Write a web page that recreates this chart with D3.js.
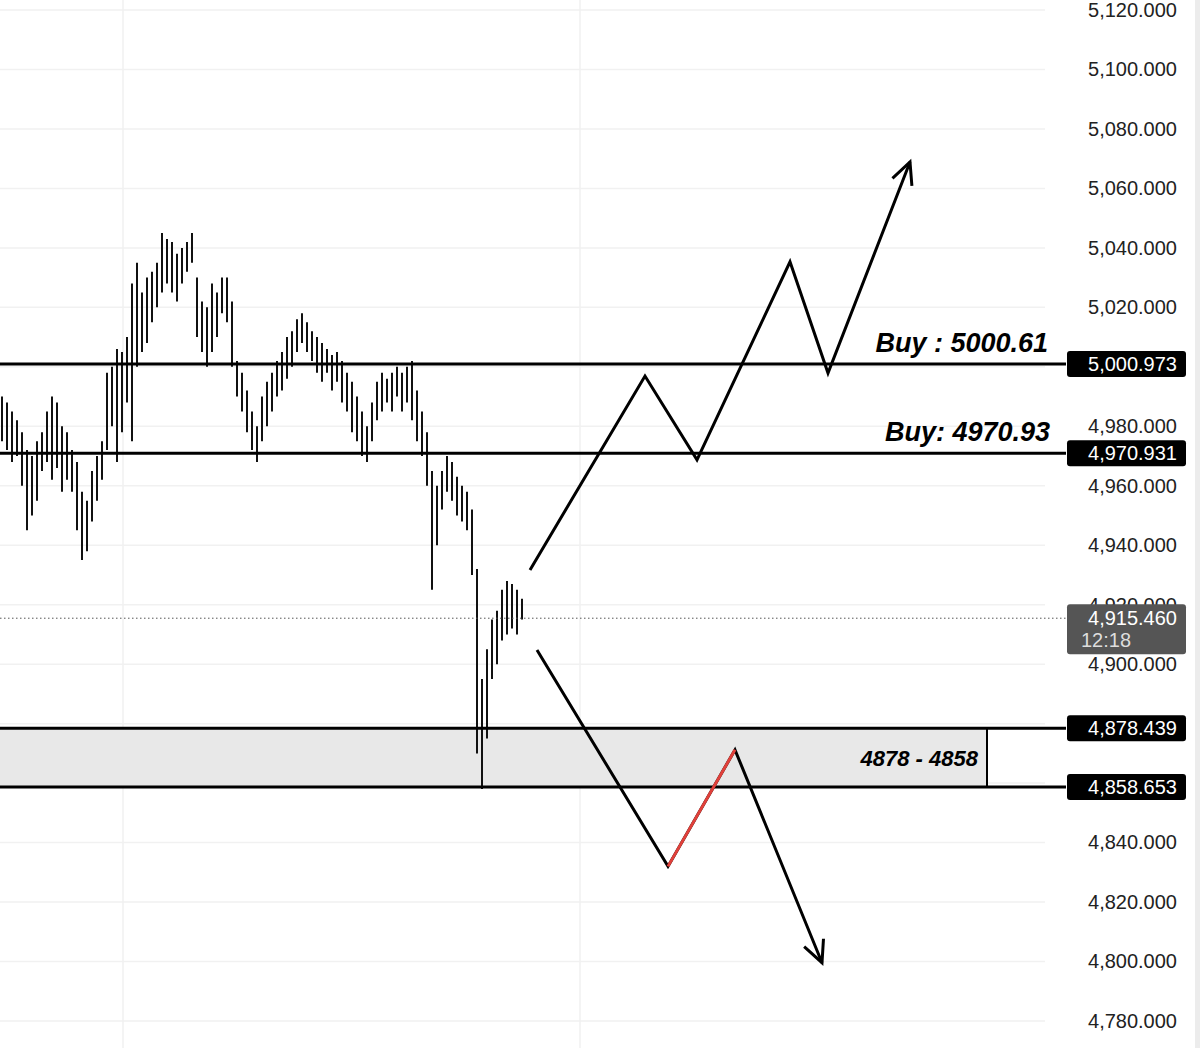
<!DOCTYPE html>
<html>
<head>
<meta charset="utf-8">
<script src="https://cdn.jsdelivr.net/npm/d3@7"></script>
<style>
body { margin: 0; background: #fff; }
svg { display: block; font-family: "Helvetica Neue", "Liberation Sans", Arial, sans-serif; }
</style>
</head>
<body>
<div class="canva"></div>
<script>
// bar lows / highs, one per bar
var lows = [4975,4972,4968,4970,4960,4945,4950,4955,4965,4968,4962,4966,4958,4962,4958,4945,4935,4938,4948,4955,
  4962,4972,4980,4968,4978,4988,4975,5000,5005,5008,5015,5020,5025,5028,5025,5022,5028,5032,5035,5010,
  5005,5000,5005,5010,5018,5015,5000,4990,4985,4978,4972,4968,4975,4980,4985,4990,4992,4996,5000,5005,
  5008,5005,5002,4998,4995,4998,4992,4995,4988,4985,4978,4975,4970,4968,4975,4982,4985,4988,4985,4990,
  4985,4988,4982,4975,4970,4960,4925,4940,4952,4958,4955,4950,4948,4945,4930,4870,4858,4875,4895,4900,
  4908,4910,4912,4910,4915];
var highs = [4990,4988,4985,4982,4978,4972,4970,4975,4978,4985,4990,4988,4980,4978,4972,4968,4958,4955,4965,4970,
  4975,4998,5000,5006,5005,5010,5028,5035,5025,5030,5032,5035,5045,5043,5042,5038,5040,5042,5045,5030,
  5022,5020,5028,5025,5030,5030,5022,5002,4998,4992,4985,4980,4990,4995,4998,5002,5005,5010,5012,5016,
  5018,5015,5012,5010,5008,5006,5004,5005,5002,4998,4995,4990,4985,4980,4988,4995,4998,4996,4998,5000,
  4998,5000,5002,4992,4985,4978,4965,4960,4965,4970,4968,4963,4960,4958,4952,4932,4895,4905,4915,4918,
  4925,4928,4927,4925,4922];

// tick labels shown on the price scale (4,860 / 4,880 / 5,000 sit under the level tags)
var yTicks = [4780,4800,4820,4840,4900,4920,4940,4960,4980,5020,5040,5060,5080,5100,5120];
var gridTicks = [4780,4800,4820,4840,4860,4880,4900,4920,4940,4960,4980,5000,5020,5040,5060,5080,5100,5120];
var levels = [5000.973, 4970.931];
var zone = [4858.653, 4878.439];
var lastPrice = 4915.46;
var lastTime = '12:18';

// projected paths: [bar index, price]
var upPath = [[105.6,4931.7],[128.6,4996.9],[139,4968.7],[157.6,5035.3],[165.2,4997.9],[181.6,5068.9]];
var downPath = [[107,4904.8],[133.2,4832.0],[146.6,4871.2],[164,4799.6]];

const width = 1200, height = 1048;
const plotRight = 1045;

const svg = d3.select('.canva').append('svg')
  .attr('width', width)
  .attr('height', height);

var x = d3.scaleLinear().domain([0, 1]).range([2, 7]);
var y = d3.scaleLinear().domain([4780, 5120]).range([1021, 10]);

// right strip
svg.append('rect').attr('x', 1195).attr('y', 0).attr('width', 5).attr('height', height).attr('fill', '#ececec');

// grid
svg.append('g').selectAll('line').data(gridTicks).enter().append('line')
  .attr('x1', 0).attr('x2', plotRight)
  .attr('y1', d => y(d)).attr('y2', d => y(d))
  .attr('stroke', '#f1f1f1').attr('stroke-width', 1.5);
svg.append('g').selectAll('line').data([24.2, 115.6]).enter().append('line')
  .attr('x1', d => x(d)).attr('x2', d => x(d))
  .attr('y1', 0).attr('y2', height)
  .attr('stroke', '#f1f1f1').attr('stroke-width', 1.5);

// zone
svg.append('rect')
  .attr('x', 0).attr('width', x(197))
  .attr('y', y(zone[1])).attr('height', y(zone[0]) - y(zone[1]))
  .attr('fill', '#e8e8e8');

// y axis labels
var yAxis = d3.axisRight(y).tickValues(yTicks).tickSize(0).tickPadding(0)
  .tickFormat(d => d3.format(',.3f')(d));
var ag = svg.append('g').attr('transform', `translate(1177,0)`).call(yAxis);
ag.select('.domain').remove();
ag.selectAll('text').attr('text-anchor', 'end').attr('font-size', 20).attr('fill', '#222')
  .attr('font-family', '"Helvetica Neue", "Liberation Sans", Arial, sans-serif');

// bars
svg.append('g').selectAll('line').data(lows).enter().append('line')
  .attr('x1', (d, i) => x(i)).attr('x2', (d, i) => x(i))
  .attr('y1', d => y(d)).attr('y2', (d, i) => y(highs[i]))
  .attr('stroke', '#111').attr('stroke-width', 2);

// last price dotted line
svg.append('line')
  .attr('x1', 0).attr('x2', 1066).attr('y1', y(lastPrice)).attr('y2', y(lastPrice))
  .attr('stroke', '#555').attr('stroke-width', 1).attr('stroke-dasharray', '1.5,2.5');

// horizontal levels
var allLevels = levels.concat(zone);
svg.append('g').selectAll('line').data(allLevels).enter().append('line')
  .attr('x1', 0).attr('x2', 1066)
  .attr('y1', d => y(d)).attr('y2', d => y(d))
  .attr('stroke', '#000').attr('stroke-width', 3);
svg.append('line')
  .attr('x1', x(197)).attr('x2', x(197)).attr('y1', y(zone[1])).attr('y2', y(zone[0]))
  .attr('stroke', '#000').attr('stroke-width', 2);

// level labels
var lb = svg.append('g').selectAll('g').data(allLevels).enter().append('g');
lb.append('rect')
  .attr('x', 1067).attr('y', d => y(d) - 13).attr('width', 119).attr('height', 26).attr('rx', 3)
  .attr('fill', '#000');
lb.append('text')
  .attr('x', 1177).attr('y', d => y(d) + 7).attr('text-anchor', 'end')
  .attr('font-size', 20).attr('fill', '#fff')
  .text(d => d3.format(',.3f')(d));

// last price label
svg.append('rect')
  .attr('x', 1067).attr('y', y(lastPrice) - 14).attr('width', 119).attr('height', 50).attr('rx', 3)
  .attr('fill', '#555');
svg.append('text').attr('x', 1177).attr('y', y(lastPrice) + 7).attr('text-anchor', 'end')
  .attr('font-size', 20).attr('fill', '#fff').text(d3.format(',.3f')(lastPrice));
svg.append('text').attr('x', 1081).attr('y', y(lastPrice) + 29)
  .attr('font-size', 20).attr('fill', '#ddd').text(lastTime);

// annotations
var line = d3.line().x(d => x(d[0])).y(d => y(d[1]));
function arrow(pts) {
  svg.append('path').attr('d', line(pts)).attr('fill', 'none')
    .attr('stroke', '#000').attr('stroke-width', 3).attr('stroke-linejoin', 'miter');
  var a = pts[pts.length - 2], b = pts[pts.length - 1];
  var x1 = x(a[0]), y1 = y(a[1]), x2 = x(b[0]), y2 = y(b[1]);
  var ang = Math.atan2(y2 - y1, x2 - x1);
  var L = 24, s = 0.45;
  var head = [
    [x2 - L * Math.cos(ang - s), y2 - L * Math.sin(ang - s)],
    [x2, y2],
    [x2 - L * Math.cos(ang + s), y2 - L * Math.sin(ang + s)]
  ];
  svg.append('path').attr('d', d3.line()(head)).attr('fill', 'none')
    .attr('stroke', '#000').attr('stroke-width', 3);
}
arrow(upPath);
arrow(downPath);
svg.append('path').attr('d', line(downPath.slice(1, 3))).attr('fill', 'none')
  .attr('stroke', '#e0403a').attr('stroke-width', 3);

// texts
svg.append('text').attr('x', 1048).attr('y', y(5000.973) - 12).attr('text-anchor', 'end')
  .attr('font-size', 27).attr('font-weight', 'bold').attr('font-style', 'italic').attr('fill', '#000')
  .text('Buy : 5000.61');
svg.append('text').attr('x', 1050).attr('y', y(4970.931) - 12).attr('text-anchor', 'end')
  .attr('font-size', 27).attr('font-weight', 'bold').attr('font-style', 'italic').attr('fill', '#000')
  .text('Buy: 4970.93');
svg.append('text').attr('x', 978).attr('y', y(4868.5) + 8).attr('text-anchor', 'end')
  .attr('font-size', 22).attr('font-weight', 'bold').attr('font-style', 'italic').attr('fill', '#000')
  .text('4878 - 4858');
</script>
</body>
</html>
